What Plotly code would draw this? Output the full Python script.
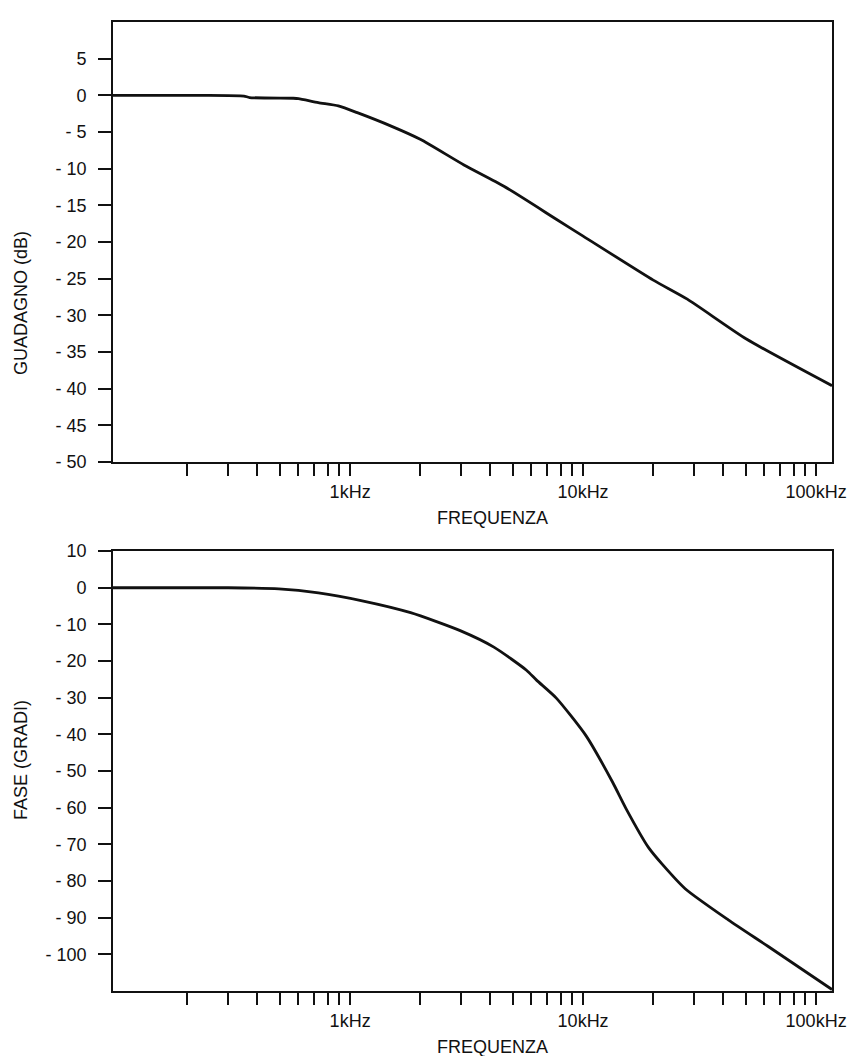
import math
import plotly.graph_objects as go
from plotly.subplots import make_subplots

# ---- data ----
freq_gain = [96, 230, 350, 370, 570, 600, 730, 890, 1080, 1500, 2000, 3080, 4570,
             7670, 10000, 20000, 28000, 50000, 117000]
gain_db = [0, 0, -0.1, -0.3, -0.4, -0.45, -1.0, -1.45, -2.4, -4.2, -6.0, -9.5, -12.4,
           -16.9, -19.2, -25.2, -27.8, -33.2, -39.6]

freq_phase = [96, 300, 494, 731, 1114, 1818, 2967, 4140, 5714, 6310, 7674, 10300,
              13370, 15240, 19100, 21840, 27420, 41970, 62100, 117000]
phase_deg = [0, 0, -0.3, -1.4, -3.5, -6.8, -11.7, -16.2, -22.5, -25.2, -30.1, -40.4,
             -53.0, -60.1, -70.9, -75.4, -82.1, -90.6, -97.8, -109.6]

x_tickvals = [200, 300, 400, 500, 600, 700, 800, 900, 1000,
              2000, 3000, 4000, 5000, 6000, 7000, 8000, 9000, 10000,
              20000, 30000, 40000, 50000, 60000, 70000, 80000, 90000, 100000]
x_ticktext = ["" for _ in x_tickvals]
x_ticktext[x_tickvals.index(1000)] = "1kHz"
x_ticktext[x_tickvals.index(10000)] = "10kHz"
x_ticktext[x_tickvals.index(100000)] = "100kHz"

gain_tickvals = [5, 0, -5, -10, -15, -20, -25, -30, -35, -40, -45, -50]
gain_ticktext = ["5", "0", "- 5", "- 10", "- 15", "- 20", "- 25", "- 30", "- 35",
                 "- 40", "- 45", "- 50"]
phase_tickvals = [10, 0, -10, -20, -30, -40, -50, -60, -70, -80, -90, -100]
phase_ticktext = ["10", "0", "- 10", "- 20", "- 30", "- 40", "- 50", "- 60", "- 70",
                  "- 80", "- 90", "- 100"]

x_range = [math.log10(96), math.log10(117000)]

FONT = "Liberation Sans, Arial, Helvetica, sans-serif"
INK = "#111111"
FS = 18

fig = make_subplots(rows=2, cols=1, vertical_spacing=0.092)

fig.add_trace(go.Scatter(x=freq_gain, y=gain_db, mode="lines",
                         line=dict(color=INK, width=2.8, shape="spline", smoothing=0.6),
                         showlegend=False, hoverinfo="skip"), row=1, col=1)
fig.add_trace(go.Scatter(x=freq_phase, y=phase_deg, mode="lines",
                         line=dict(color=INK, width=2.8, shape="spline", smoothing=0.6),
                         showlegend=False, hoverinfo="skip"), row=2, col=1)

axis_common = dict(showline=True, linecolor=INK, linewidth=1.6, mirror=True,
                   ticks="outside", tickcolor=INK, showgrid=False, zeroline=False,
                   tickfont=dict(family=FONT, size=FS, color=INK))

for r in (1, 2):
    fig.update_xaxes(type="log", range=x_range, tickmode="array",
                     tickvals=x_tickvals, ticktext=x_ticktext,
                     ticklen=12, tickwidth=1.5, ticklabelstandoff=1,
                     row=r, col=1, **axis_common)

fig.update_yaxes(range=[-50, 10], tickmode="array", tickvals=gain_tickvals,
                 ticktext=gain_ticktext, ticklen=13, tickwidth=2,
                 ticklabelstandoff=8, row=1, col=1, **axis_common)
fig.update_yaxes(range=[-110, 10], tickmode="array", tickvals=phase_tickvals,
                 ticktext=phase_ticktext, ticklen=13, tickwidth=2,
                 ticklabelstandoff=8, row=2, col=1, **axis_common)

fig.update_layout(
    width=858, height=1056,
    margin=dict(l=113, r=20, t=13, b=65),
    paper_bgcolor="white", plot_bgcolor="white",
    font=dict(family=FONT, size=FS, color=INK),
)
fig.update_layout(yaxis=dict(domain=[0.546, 1.0]), yaxis2=dict(domain=[0.0, 0.454]))

annos = [
    dict(text="GUADAGNO (dB)", x=-0.127, y=0.7096, textangle=-90),
    dict(text="FASE (GRADI)", x=-0.127, y=0.238, textangle=-90),
    dict(text="FREQUENZA", x=0.528, y=0.4877, textangle=0),
    dict(text="FREQUENZA", x=0.528, y=-0.0573, textangle=0),
]
for a in annos:
    fig.add_annotation(text=a["text"], x=a["x"], y=a["y"], xref="paper", yref="paper",
                       xanchor="center", yanchor="middle", textangle=a["textangle"],
                       showarrow=False, font=dict(family=FONT, size=FS, color=INK))

fig.write_html("out.html")
